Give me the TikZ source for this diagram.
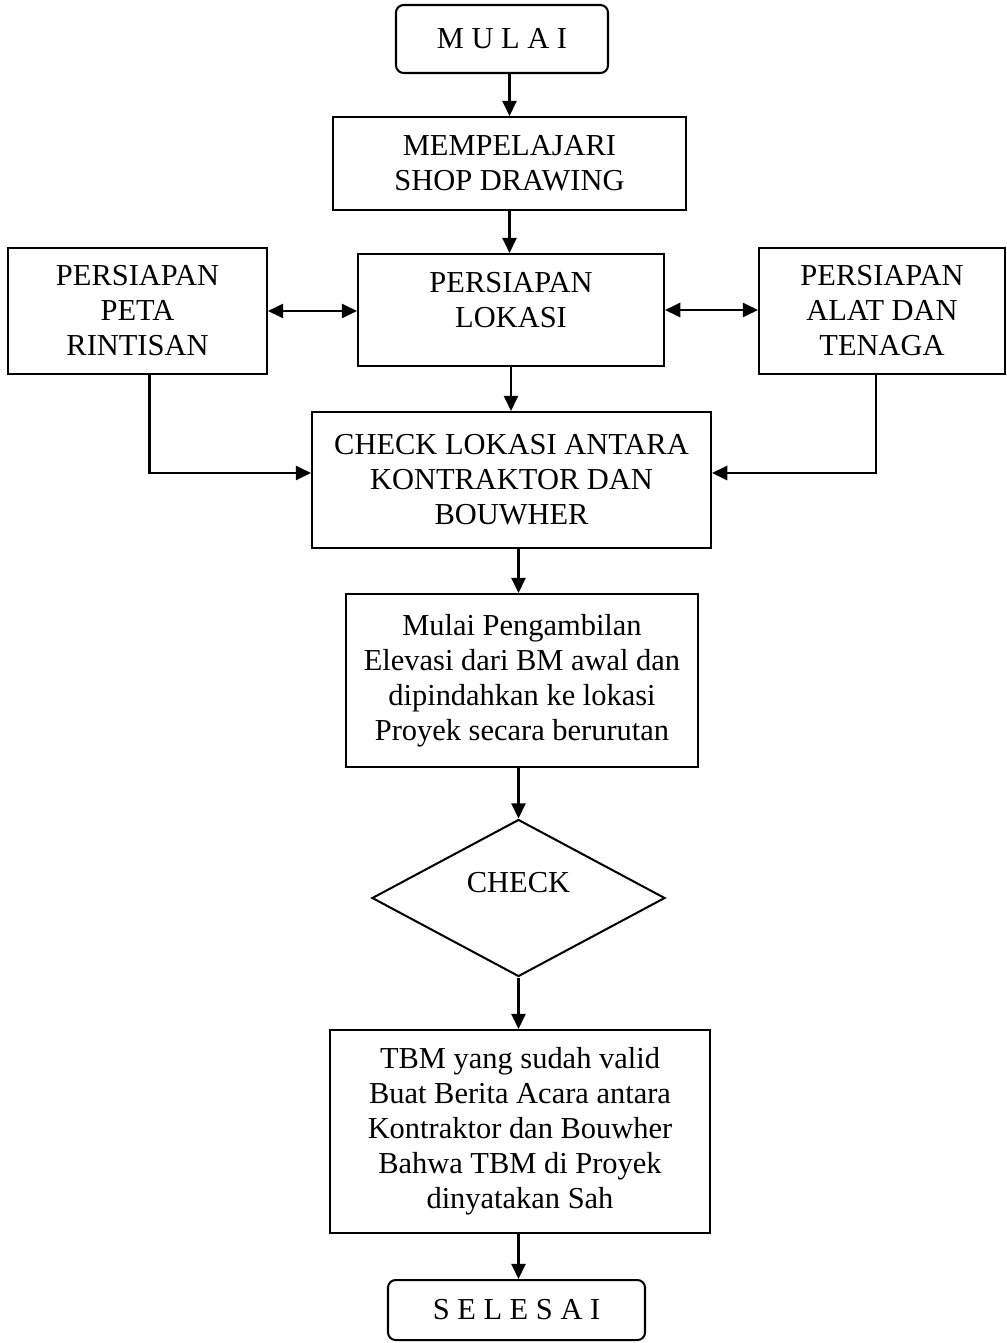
\documentclass[tikz,border=0pt]{standalone}
\usepackage{fontspec}
\setmainfont{Liberation Serif}
\usetikzlibrary{arrows.meta,shapes.geometric,calc}
\newcommand{\pix}{0.394pt}
\begin{document}
\begin{tikzpicture} [x=\pix, y=-\pix, font=\fontsize{12}{13.8}\selectfont,
        kotak/.style = {draw, line width=0.8pt, align=center, inner sep=0pt},
        pfeil/.style = {-{Triangle[length=6pt, width=5.6pt]}, line width=0.8pt},
        dpfeil/.style = {{Triangle[length=6pt, width=5.6pt]}-{Triangle[length=6pt, width=5.6pt]}, line width=0.8pt}]
    \useasboundingbox (0, 0) rectangle (1006, 1343);

    % Mulai und Selesai
    \node [kotak, rounded corners=3pt, minimum width=212*\pix, minimum height=68*\pix] (mulai) at (502, 39) {M U L A I};
    \node [kotak, rounded corners=3pt, minimum width=257*\pix, minimum height=60*\pix] (selesai) at (516.5, 1310) {S E L E S A I};

    % Kästen
    \node [kotak, minimum width=353*\pix, minimum height=93*\pix] (pelajari) at (509.5, 163.5) {MEMPELAJARI\\SHOP DRAWING};
    \node [kotak, minimum width=306*\pix, minimum height=112*\pix,
           label={[align=center, yshift=3.9pt]center:PERSIAPAN\\LOKASI}] (lokasi) at (511, 310) {};
    \node [kotak, minimum width=259*\pix, minimum height=126*\pix] (peta) at (137.5, 311) {PERSIAPAN\\PETA\\RINTISAN};
    \node [kotak, minimum width=246*\pix, minimum height=126*\pix] (alat) at (882, 311) {PERSIAPAN\\ALAT DAN\\TENAGA};
    \node [kotak, minimum width=399*\pix, minimum height=136*\pix] (checklok) at (511.5, 480) {CHECK LOKASI ANTARA\\KONTRAKTOR DAN\\BOUWHER};
    \node [kotak, minimum width=352*\pix, minimum height=173*\pix] (ambil) at (522, 680.5)
        {Mulai Pengambilan\\Elevasi dari BM awal dan\\dipindahkan ke lokasi\\Proyek secara berurutan};
    \node [kotak, diamond, minimum width=293*\pix, minimum height=157*\pix,
           label={[yshift=5.9pt]center:CHECK}] (cek) at (518.5, 898) {};
    \node [kotak, minimum width=380*\pix, minimum height=203*\pix] (tbm) at (520, 1131.5)
        {TBM yang sudah valid\\Buat Berita Acara antara\\Kontraktor dan Bouwher\\Bahwa TBM di Proyek\\dinyatakan Sah};

    % Pfeile
    \draw [pfeil] (mulai.south -| pelajari.north) -- (pelajari.north);
    \draw [pfeil] (pelajari.south) -- (pelajari.south |- lokasi.north);
    \draw [pfeil] (lokasi.south) -- (lokasi.south |- checklok.north);
    \draw [dpfeil] (peta.east) -- (peta.east -| lokasi.west);
    \draw [dpfeil] (lokasi.east) -- (lokasi.east -| alat.west);
    \draw [pfeil] ($(peta.south)+(12, 0)$) |- ($(checklok.west)+(0, -7)$);
    \draw [pfeil] ($(alat.south)+(-6, 0)$) |- ($(checklok.east)+(0, -7)$);
    \draw [pfeil] (checklok.south -| cek.north) -- (ambil.north -| cek.north);
    \draw [pfeil] (ambil.south -| cek.north) -- (cek.north);
    \draw [pfeil] (cek.south) -- (cek.south |- tbm.north);
    \draw [pfeil] (tbm.south -| cek.south) -- (selesai.north -| cek.south);
\end{tikzpicture}
\end{document}
